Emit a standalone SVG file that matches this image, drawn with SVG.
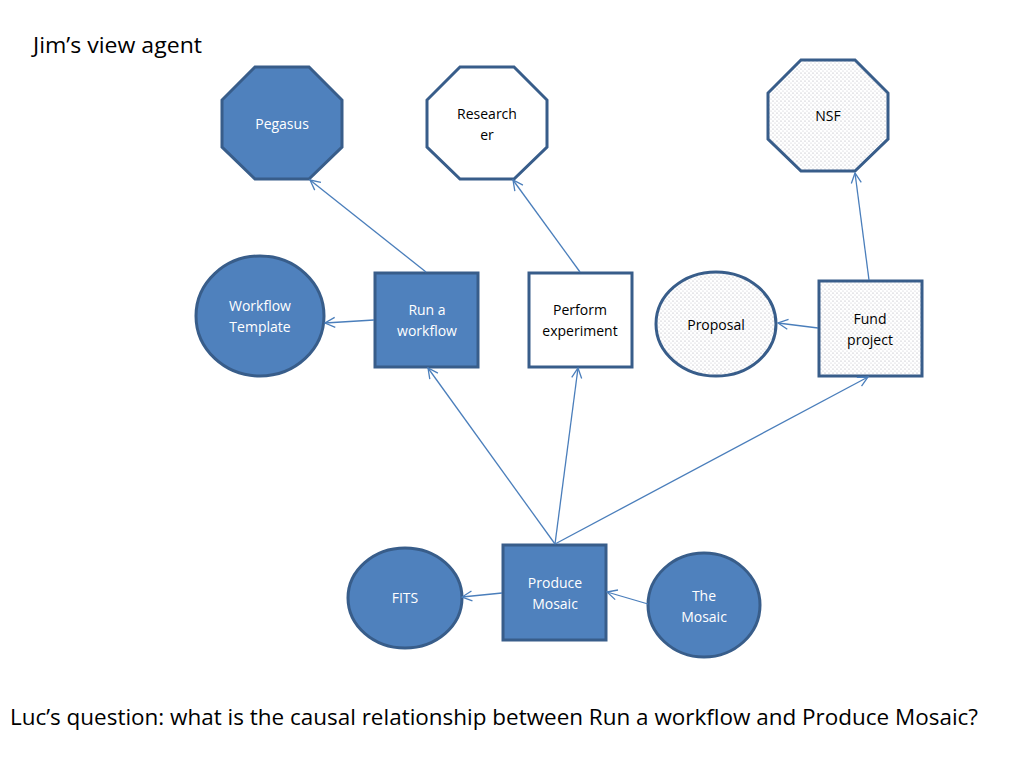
<svg xmlns="http://www.w3.org/2000/svg" width="1024" height="768" viewBox="0 0 1024 768">
<defs>
<pattern id="dots" width="4" height="4" patternUnits="userSpaceOnUse">
<rect width="4" height="4" fill="#ffffff"/>
<circle cx="1" cy="1" r="0.6" fill="#a8a8b0"/>
<circle cx="3" cy="3" r="0.6" fill="#c4c4cc"/>
</pattern>
<marker id="arr" viewBox="0 0 12 12" refX="11" refY="6" markerWidth="12" markerHeight="12" markerUnits="userSpaceOnUse" orient="auto">
<path d="M1,1 L11,6 L1,11" fill="none" stroke="#4a7ebb" stroke-width="1.3"/>
</marker>
<style>
.solid{fill:#4f81bd;stroke:#385d8a;stroke-width:3}
.white{fill:#ffffff;stroke:#385d8a;stroke-width:3}
.dot{fill:url(#dots);stroke:#385d8a;stroke-width:3}
.lw{font-family:"Open Sans","Liberation Sans",sans-serif;font-size:14px;fill:#ffffff;text-anchor:middle}
.lb{font-family:"Open Sans","Liberation Sans",sans-serif;font-size:14px;fill:#000000;text-anchor:middle}
.conn line{stroke:#4a7ebb;stroke-width:1.3;marker-end:url(#arr)}
.title{font-family:"Open Sans","Liberation Sans",sans-serif;font-size:21px;fill:#000000}
</style>
</defs>
<rect width="1024" height="768" fill="#ffffff"/>
<text class="title" x="33" y="53" textLength="169" lengthAdjust="spacingAndGlyphs">Jim’s view agent</text>
<text class="title" x="10" y="725" textLength="968" lengthAdjust="spacingAndGlyphs">Luc’s question: what is the causal relationship between Run a workflow and Produce Mosaic?</text>

<g id="pegasus">
<polygon class="solid" points="255,67 309,67 342,100 342,147 309,179 255,179 222,147 222,100"/>
<text class="lw" x="282" y="129">Pegasus</text>
</g>
<g id="researcher">
<polygon class="white" points="460,67 514,67 547,100 547,147 514,179 460,179 427,147 427,100"/>
<text class="lb" x="487" y="119">Research</text>
<text class="lb" x="487" y="140">er</text>
</g>
<g id="nsf">
<polygon class="dot" points="801,60 855,60 888,93 888,139 855,171 801,171 768,139 768,93"/>
<text class="lb" x="828" y="121">NSF</text>
</g>
<g id="workflow-template">
<ellipse class="solid" cx="260" cy="316" rx="64" ry="60"/>
<text class="lw" x="260" y="311">Workflow</text>
<text class="lw" x="260" y="332">Template</text>
</g>
<g id="run-a-workflow">
<rect class="solid" x="375" y="273" width="103" height="94"/>
<text class="lw" x="427" y="315">Run a</text>
<text class="lw" x="427" y="336">workflow</text>
</g>
<g id="perform-experiment">
<rect class="white" x="529" y="273" width="103" height="94"/>
<text class="lb" x="580" y="315">Perform</text>
<text class="lb" x="580" y="336">experiment</text>
</g>
<g id="proposal">
<ellipse class="dot" cx="716" cy="324" rx="60" ry="52"/>
<text class="lb" x="716" y="330">Proposal</text>
</g>
<g id="fund-project">
<rect class="dot" x="819" y="281" width="103" height="95"/>
<text class="lb" x="870" y="324">Fund</text>
<text class="lb" x="870" y="345">project</text>
</g>
<g id="produce-mosaic">
<rect class="solid" x="503" y="545" width="103" height="95"/>
<text class="lw" x="555" y="588">Produce</text>
<text class="lw" x="555" y="609">Mosaic</text>
</g>
<g id="fits">
<ellipse class="solid" cx="405" cy="598" rx="57" ry="50"/>
<text class="lw" x="405" y="603">FITS</text>
</g>
<g id="the-mosaic">
<ellipse class="solid" cx="704" cy="605" rx="56" ry="52"/>
<text class="lw" x="704" y="601">The</text>
<text class="lw" x="704" y="622">Mosaic</text>
</g>

<g id="connectors" class="conn">
<line x1="426" y1="272" x2="310" y2="180"/>
<line x1="374" y1="320" x2="325" y2="323"/>
<line x1="580" y1="272" x2="513" y2="180"/>
<line x1="869" y1="280" x2="855" y2="173"/>
<line x1="818" y1="328" x2="778" y2="323"/>
<line x1="555" y1="544" x2="428" y2="368"/>
<line x1="555" y1="544" x2="578" y2="368"/>
<line x1="555" y1="544" x2="868" y2="377"/>
<line x1="502" y1="593" x2="462" y2="597"/>
<line x1="648" y1="604" x2="607" y2="592"/>
</g>
</svg>
